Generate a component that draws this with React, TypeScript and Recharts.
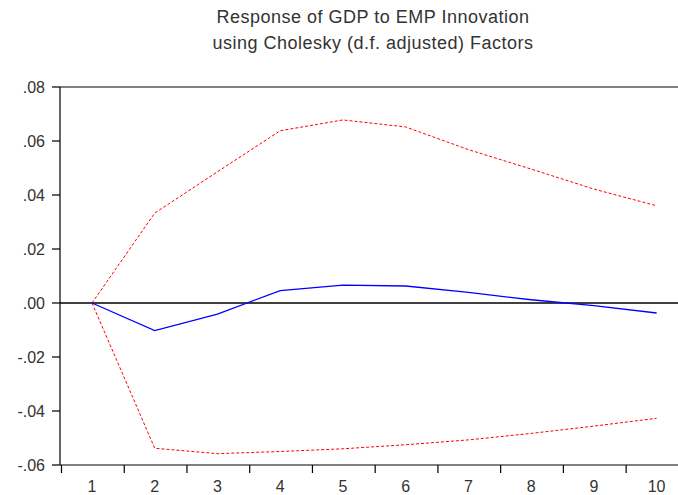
import React from "react";
import { LineChart, Line, XAxis, YAxis, ReferenceLine } from "recharts";

// horizons 1..10 of the impulse response
const periods = [1, 2, 3, 4, 5, 6, 7, 8, 9, 10];
const response = [0, -0.0102, -0.0041, 0.0046, 0.0066, 0.0063, 0.0039, 0.0012, -0.001, -0.0037];
const upperBand = [0, 0.0333, 0.0486, 0.0638, 0.0678, 0.0652, 0.0568, 0.0496, 0.0422, 0.036];
const lowerBand = [0, -0.0538, -0.0558, -0.055, -0.054, -0.0525, -0.0507, -0.0483, -0.0456, -0.0427];
const yTicks = [-0.06, -0.04, -0.02, 0, 0.02, 0.04, 0.06, 0.08];
const titleLines = ["Response of GDP to EMP Innovation", "using Cholesky (d.f. adjusted) Factors"];

const data = periods.map((p, i) => ({
  period: p,
  response: response[i],
  upper: upperBand[i],
  lower: lowerBand[i],
}));

const FONT = "'Liberation Sans', Arial, sans-serif";
const TEXT = "#333333";
const HALF_BAND = 30.5;

const fmtY = (v: number) => {
  const s = Math.abs(v).toFixed(2).replace(/^0/, "");
  return v < -1e-9 ? "-" + s : s;
};

// label in the middle of each period, tick mark on the left boundary
const PeriodTick = (props: any) => {
  const { x, y, payload } = props;
  const axisY = y - 8;
  return (
    <g>
      <line x1={x - HALF_BAND} x2={x - HALF_BAND} y1={axisY} y2={axisY + 8} stroke="#000" strokeWidth={1.2} />
      <text x={x} y={y + 13} textAnchor="middle" dominantBaseline="central" fontSize={16} fill={TEXT} fontFamily={FONT}>
        {payload.value}
      </text>
    </g>
  );
};

export default function App() {
  return (
    <div style={{ position: "absolute", left: 0, top: 0, width: 678, height: 495, overflow: "hidden", background: "#fff" }}>
      <div
        style={{
          position: "absolute",
          left: 0,
          top: 4,
          width: 746,
          textAlign: "center",
          fontFamily: FONT,
          fontSize: 18,
          letterSpacing: 0.5,
          lineHeight: "26px",
          color: TEXT,
        }}
      >
        {titleLines.map((t) => (
          <div key={t}>{t}</div>
        ))}
      </div>
      <LineChart width={688} height={495} data={data} margin={{ top: 87, right: 0, bottom: 0, left: 0 }}>
        <XAxis
          dataKey="period"
          type="number"
          domain={[0.49, 10.5]}
          ticks={periods}
          height={30}
          tickLine={false}
          tickSize={8}
          tickMargin={0}
          axisLine={{ stroke: "#000", strokeWidth: 1.2 }}
          tick={<PeriodTick />}
          interval={0}
          allowDataOverflow
        />
        <YAxis
          type="number"
          domain={[-0.06, 0.08]}
          ticks={yTicks}
          width={60}
          tickSize={8}
          tickMargin={7}
          tickFormatter={fmtY}
          axisLine={{ stroke: "#000", strokeWidth: 1.2 }}
          tickLine={{ stroke: "#000", strokeWidth: 1.2 }}
          tick={{ fontSize: 16, fill: TEXT, fontFamily: FONT }}
          interval={0}
        />
        <ReferenceLine y={0.08} stroke="#000" strokeWidth={1.2} />
        <ReferenceLine y={0} stroke="#000" strokeWidth={1.5} />
        <Line type="linear" dataKey="upper" stroke="#ff0000" strokeWidth={1} strokeDasharray="3 2" dot={false} isAnimationActive={false} />
        <Line type="linear" dataKey="lower" stroke="#ff0000" strokeWidth={1} strokeDasharray="3 2" dot={false} isAnimationActive={false} />
        <Line type="linear" dataKey="response" stroke="#0000ff" strokeWidth={1.3} dot={false} isAnimationActive={false} />
      </LineChart>
    </div>
  );
}
